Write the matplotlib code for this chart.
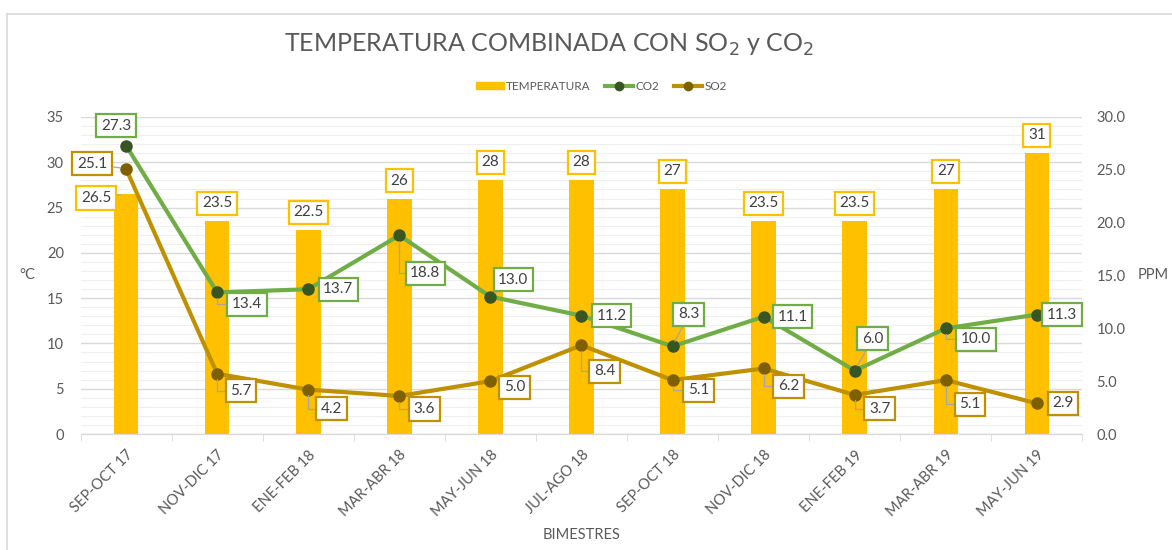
import matplotlib.pyplot as plt
import numpy as np
from matplotlib.lines import Line2D
from matplotlib.patches import Patch

plt.rcParams['font.family'] = ['Lato', 'DejaVu Sans']

# datos
bimestres = ['SEP-OCT 17', 'NOV-DIC 17', 'ENE-FEB 18', 'MAR-ABR 18', 'MAY-JUN 18',
             'JUL-AGO 18', 'SEP-OCT 18', 'NOV-DIC 18', 'ENE-FEB 19', 'MAR-ABR 19',
             'MAY-JUN 19']
temperatura = [26.5, 23.5, 22.5, 26, 28, 28, 27, 23.5, 23.5, 27, 31]
co2 = [27.3, 13.4, 13.7, 18.8, 13.0, 11.2, 8.3, 11.1, 6.0, 10.0, 11.3]
so2 = [25.1, 5.7, 4.2, 3.6, 5.0, 8.4, 5.1, 6.2, 3.7, 5.1, 2.9]

# offsets of the data labels (pixels, right / down)
off_temp = [(-30, 4)] + [(0, -18)] * 10
off_co2 = [(-10, -20), (30, 12), (30, 0), (26, 38), (23, -17), (30, 0),
           (16, -32), (29, 0), (18, -32), (30, 11), (25, 0)]
off_so2 = [(-34, -5), (24, 17), (23, 19), (25, 13), (24, 6), (23, 26),
           (26, 10), (25, 18), (25, 14), (24, 24), (26, 0)]

c_bar = '#FFC000'
c_co2, c_co2_m = '#70AD47', '#375623'
c_so2, c_so2_m = '#BF9000', '#7F6000'
c_txt = '#595959'
c_grid = '#D9D9D9'

fig = plt.figure(figsize=(11.72, 5.5), dpi=100)
ax = fig.add_axes([0.0687, 0.2109, 0.8549, 0.5764])
ax2 = ax.twinx()

x = np.arange(len(bimestres))
ax.bar(x, temperatura, width=0.27, color=c_bar, zorder=2)
ax2.plot(x, co2, color=c_co2, lw=3, marker='o', ms=8, mfc=c_co2_m, mec=c_co2_m, zorder=3)
ax2.plot(x, so2, color=c_so2, lw=3, marker='o', ms=8, mfc=c_so2_m, mec=c_so2_m, zorder=3)

ax.set_xlim(-0.5, len(bimestres) - 0.5)
ax.set_ylim(0, 35)
ax2.set_ylim(0, 30)
ax.set_yticks(np.arange(0, 36, 5))
ax.set_yticks(np.arange(0, 36, 1), minor=True)
ax2.set_yticks(np.arange(0, 31, 5))
ax2.set_yticklabels(['%.1f' % v for v in np.arange(0, 31, 5)])
ax.grid(axis='y', which='major', color=c_grid, lw=1, zorder=0)
ax.grid(axis='y', which='minor', color='#EFEFEF', lw=0.8, zorder=0)
ax.set_axisbelow(True)

ax.set_xticks(x)
ax.set_xticklabels(bimestres, rotation=45, ha='right', rotation_mode='anchor')
ax.set_xticks(np.arange(-0.5, len(bimestres), 1), minor=True)
ax.tick_params(axis='x', which='major', length=0, pad=10, labelsize=10.5, labelcolor=c_txt)
ax.tick_params(axis='x', which='minor', length=5, color=c_grid)
ax.tick_params(axis='y', which='both', length=0, labelsize=10.5, labelcolor=c_txt, pad=12)
ax2.tick_params(axis='y', length=0, labelsize=10.5, labelcolor=c_txt, pad=10)
for a in (ax, ax2):
    for s in ['top', 'left', 'right']:
        a.spines[s].set_visible(False)
    a.spines['bottom'].set_color(c_grid)

ax.set_xlabel('BIMESTRES', fontsize=10.5, color=c_txt, labelpad=6)
ax.set_ylabel('°C', fontsize=10.5, color=c_txt, rotation=0, labelpad=14, va='center')
ax2.set_ylabel('PPM', fontsize=10.5, color=c_txt, rotation=0, labelpad=20, va='center')


def etiquetas(axis, values, offsets, color, fmt):
    for i, (v, (dx, dy)) in enumerate(zip(values, offsets)):
        if abs(dx) + abs(dy) > 30:
            conn = 'arc3' if dy <= 5 else 'angle,angleA=0,angleB=90,rad=0'
            arrow = dict(arrowstyle='-', color='#A6A6A6', lw=0.9,
                         connectionstyle=conn, shrinkA=0, shrinkB=4)
        else:
            arrow = None
        axis.annotate(fmt % v if fmt else '%g' % v, (i, v),
                      xytext=(dx * 0.72, -dy * 0.72), textcoords='offset points',
                      ha='center', va='center', fontsize=11, color='#404040',
                      bbox=dict(boxstyle='square,pad=0.3', fc='white', ec=color, lw=1.6),
                      arrowprops=arrow, zorder=5)


etiquetas(ax, temperatura, off_temp, c_bar, None)
etiquetas(ax2, co2, off_co2, c_co2, '%.1f')
etiquetas(ax2, so2, off_so2, c_so2, '%.1f')

fig.text(0.468, 0.918, 'TEMPERATURA COMBINADA CON SO$_2$ y CO$_2$',
         ha='center', va='center', fontsize=18, color=c_txt)

handles = [Patch(color=c_bar, label='TEMPERATURA'),
           Line2D([], [], color=c_co2, lw=3, marker='o', ms=6, mfc=c_co2_m, mec=c_co2_m, label='CO2'),
           Line2D([], [], color=c_so2, lw=3, marker='o', ms=6, mfc=c_so2_m, mec=c_so2_m, label='SO2')]
fig.legend(handles=handles, loc='center', bbox_to_anchor=(0.513, 0.843), ncol=3,
           frameon=False, fontsize=8.5, labelcolor=c_txt, handlelength=2.4,
           handleheight=0.6, columnspacing=1.2, handletextpad=0.2)

# chart border
fig.add_artist(Line2D([0.006, 0.006], [0, 0.975], color=c_grid, lw=1.2))
fig.add_artist(Line2D([0.006, 1], [0.975, 0.975], color=c_grid, lw=1.2))

fig.savefig('out.png', dpi=100)
